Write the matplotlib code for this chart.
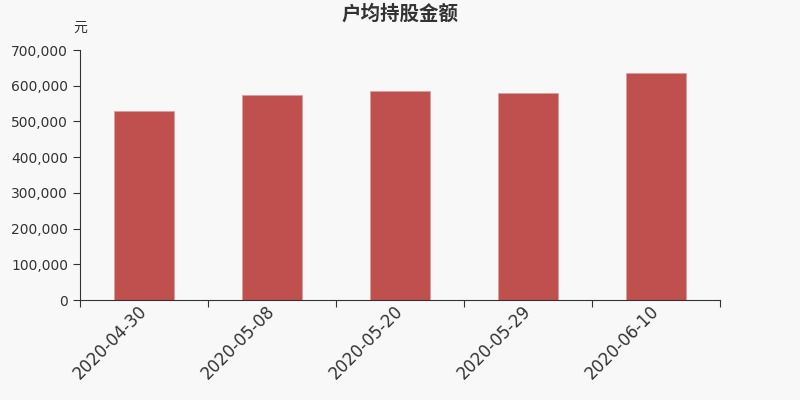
import matplotlib
matplotlib.use('Agg')
from matplotlib import pyplot as plt
from matplotlib.ticker import FuncFormatter, MultipleLocator

plt.rcParams['font.family'] = ['DejaVu Sans', 'Noto Sans CJK SC']

dates = ['2020-04-30', '2020-05-08', '2020-05-20', '2020-05-29', '2020-06-10']
amounts = [529000, 574000, 584000, 581000, 636000]

bg = '#f8f8f8'
fig = plt.figure(figsize=(8, 4), dpi=100, facecolor=bg)
ax = fig.add_axes([0.1, 0.25, 0.8, 0.625])
ax.set_facecolor(bg)

xs = range(len(dates))
ax.bar(xs, amounts, width=0.47, color='#c0504d', edgecolor='#d9a0a0', linewidth=0.6)

ax.set_xlim(-0.5, len(dates) - 0.5)
ax.set_ylim(0, 700000)
ax.yaxis.set_major_locator(MultipleLocator(100000))
ax.yaxis.set_major_formatter(FuncFormatter(lambda v, p: '{:,}'.format(int(v))))

# category ticks at the borders, labels in the middle
ax.set_xticks([i - 0.5 for i in range(len(dates) + 1)])
ax.set_xticklabels([])
ax.set_xticks(list(xs), minor=True)
ax.set_xticklabels(dates, minor=True, rotation=45, ha='right', va='center',
                   rotation_mode='anchor', fontsize=12, color='#333333')
ax.tick_params(axis='x', which='minor', length=0, pad=6)
ax.tick_params(axis='x', which='major', length=5, color='#333333')
ax.tick_params(axis='y', length=5, color='#333333', labelsize=10, labelcolor='#333333')

for side in ['top', 'right']:
    ax.spines[side].set_visible(False)
ax.spines['left'].set_color('#333333')
ax.spines['bottom'].set_color('#333333')

ax.text(0.0, 1.088, '元', transform=ax.transAxes, ha='center', va='center',
        fontsize=10, color='#333333')
fig.text(0.5, 0.965, '户均持股金额', ha='center', va='center', fontsize=14,
         fontweight='bold', color='#333333')

fig.savefig('out.png', dpi=100, facecolor=bg)
